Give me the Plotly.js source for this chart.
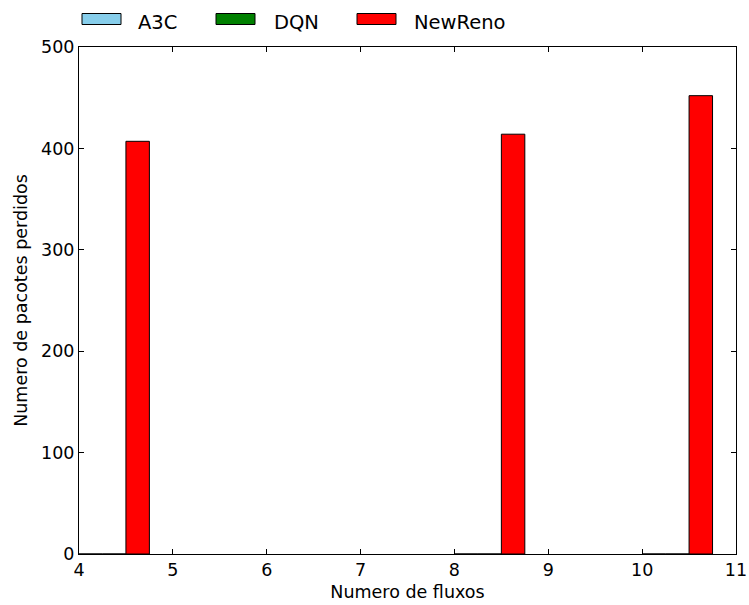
<!DOCTYPE html>
<html>
<head>
<meta charset="utf-8">
<script src="https://cdn.plot.ly/plotly-3.0.1.min.js"></script>
<style>html,body{margin:0;padding:0;background:#fff;}#chart{width:749px;height:605px;}</style>
</head>
<body>
<div id="chart"></div>
<script>
// Data
const flows = [4, 8, 10];
const seriesNames = ["A3C", "DQN", "NewReno"];
const a3cValues = [0, 0, 0];
const dqnValues = [0, 0, 0];
const newRenoValues = [407, 414, 452];
const xTickVals = [4, 5, 6, 7, 8, 9, 10, 11];
const yTickVals = [0, 100, 200, 300, 400, 500];

const colors = ["#87ceeb", "#008000", "#ff0000"];
const barWidth = 0.25;
const seriesValues = [a3cValues, dqnValues, newRenoValues];

const FONT = "DejaVu Sans, sans-serif";
const W = 749, H = 605;
const M = {l: 79, r: 13, t: 47, b: 51};
const plotW = W - M.l - M.r, plotH = H - M.t - M.b;

const traces = seriesNames.map((name, i) => ({
  type: "bar",
  name: name,
  x: flows.map(f => f + i * barWidth),
  y: seriesValues[i],
  width: barWidth,
  offset: 0,
  marker: {color: colors[i], line: {color: "#000", width: 1}},
  showlegend: false,
  hoverinfo: "x+y"
}));

// custom legend (matplotlib-like wide patches)
const px2x = px => (px - M.l) / plotW;
const py2y = py => 1 + (M.t - py) / plotH;
const patchLeft = [82, 216, 357];
const textLeft = [137, 273, 413];
const shapes = [], annotations = [];
seriesNames.forEach((name, i) => {
  shapes.push({
    type: "rect", xref: "paper", yref: "paper",
    x0: px2x(patchLeft[i]), x1: px2x(patchLeft[i] + 39),
    y0: py2y(24.5), y1: py2y(13.5),
    fillcolor: colors[i], line: {color: "#000", width: 1}
  });
  annotations.push({
    xref: "paper", yref: "paper",
    x: px2x(textLeft[i] - 1), y: py2y(22.5),
    xanchor: "left", yanchor: "middle",
    text: name, showarrow: false,
    font: {family: FONT, size: 19.5, color: "#000"}
  });
});

const layout = {
  width: W, height: H,
  margin: M,
  paper_bgcolor: "#fff", plot_bgcolor: "#fff",
  font: {family: FONT, size: 17.5, color: "#000"},
  showlegend: false,
  bargap: 0,
  xaxis: {
    range: [4, 11],
    tickvals: xTickVals,
    ticktext: xTickVals.map(String),
    ticks: "inside", ticklen: 5, tickwidth: 1, tickcolor: "#000",
    showline: true, linecolor: "#000", linewidth: 1, mirror: "ticks",
    showgrid: false, zeroline: false,
    tickfont: {family: FONT, size: 17.5},
    title: {text: "Numero de fluxos", font: {family: FONT, size: 17.5}, standoff: 6}
  },
  yaxis: {
    range: [0, 500],
    tickvals: yTickVals,
    ticktext: yTickVals.map(String),
    ticks: "inside", ticklen: 5, tickwidth: 1, tickcolor: "#000",
    showline: true, linecolor: "#000", linewidth: 1, mirror: "ticks",
    showgrid: false, zeroline: false,
    tickfont: {family: FONT, size: 17.5},
    title: {text: "Numero de pacotes perdidos", font: {family: FONT, size: 17.5}, standoff: 8}
  },
  shapes: shapes,
  annotations: annotations
};

Plotly.newPlot("chart", traces, layout, {displayModeBar: false, staticPlot: true});
</script>
</body>
</html>
